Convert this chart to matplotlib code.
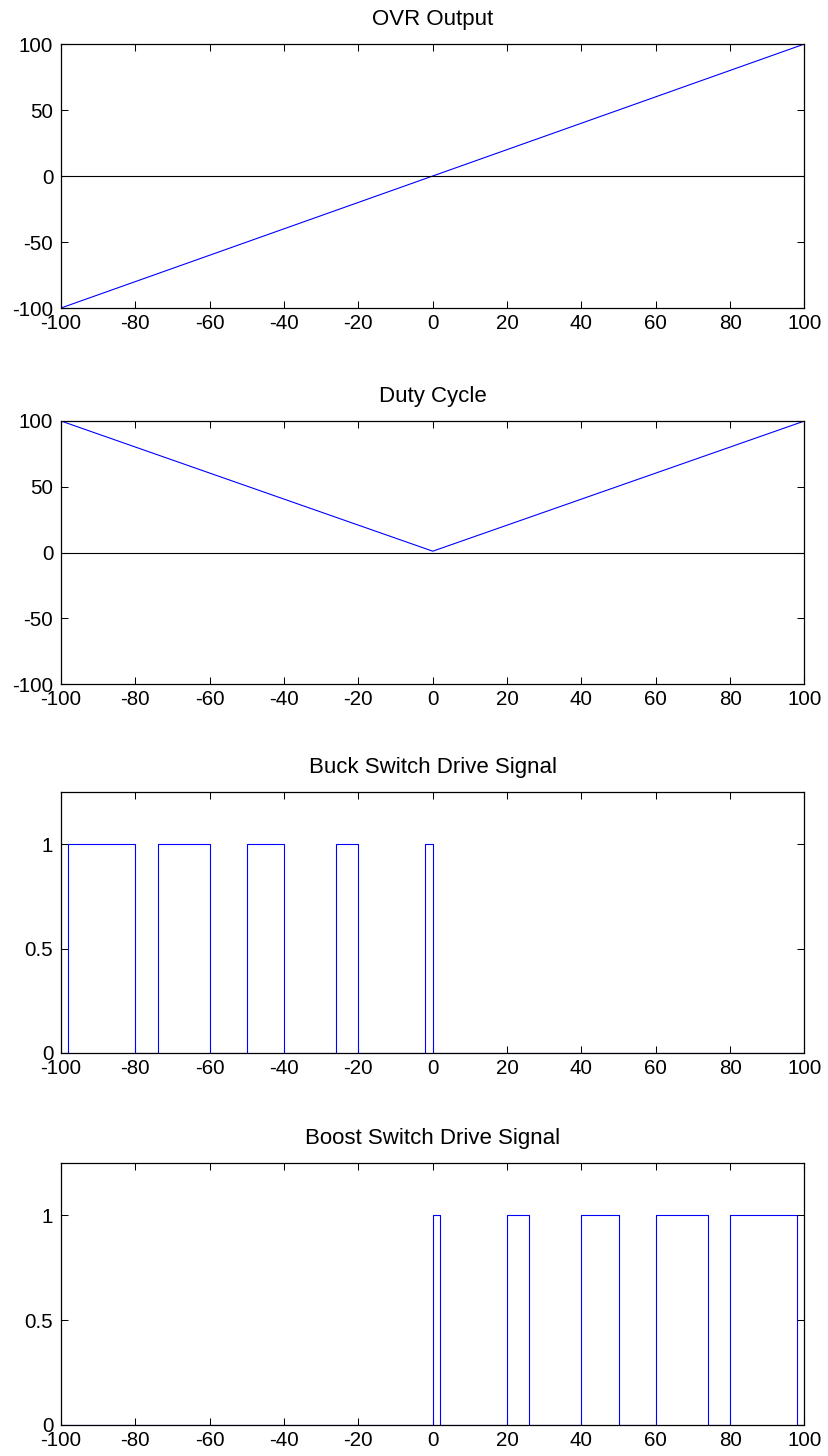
import matplotlib
matplotlib.use("Agg")
import matplotlib.pyplot as plt

plt.rcParams['font.family'] = ['Liberation Sans', 'DejaVu Sans']
plt.rcParams['axes.unicode_minus'] = False

# OVR output (straight line through the endpoints)
ovr_x = [-100, 0, 100]
ovr_y = [-100, 0, 100]

# duty cycle (V shape)
duty_x = [-100, 0, 100]
duty_y = [100, 1, 100]

# switch drive signals, edges (steps-post)
buck_edges = [-100, -98, -80, -74, -60, -50, -40, -26, -20, -2, 0, 100]
buck_levels = [0, 1, 0, 1, 0, 1, 0, 1, 0, 1, 0, 0]

boost_edges = [-100, 0, 2, 20, 26, 40, 50, 60, 74, 80, 98, 100]
boost_levels = [0, 1, 0, 1, 0, 1, 0, 1, 0, 1, 0, 0]

xticks = [-100, -80, -60, -40, -20, 0, 20, 40, 60, 80, 100]

W, H = 829, 1456
fig = plt.figure(figsize=(W / 100, H / 100), dpi=100)

left = 61 / W
width = (804.5 - 61) / W
# (top, bottom) pixel rows of each axes
rows = [(44, 308), (421, 684), (792, 1053), (1163, 1425)]
axes = []
for top, bot in rows:
    ax = fig.add_axes([left, (H - bot) / H, width, (bot - top) / H])
    axes.append(ax)

ax1, ax2, ax3, ax4 = axes

ax1.plot(ovr_x, ovr_y, color='blue', linewidth=0.8)
ax2.plot(duty_x, duty_y, color='blue', linewidth=0.8)
for ax in (ax1, ax2):
    ax.axhline(0, color='black', linewidth=0.8)
    ax.set_ylim(-100, 100)
    ax.set_yticks([-100, -50, 0, 50, 100])

ax3.plot(buck_edges, buck_levels, color='blue', linewidth=0.8, drawstyle='steps-post')
ax4.plot(boost_edges, boost_levels, color='blue', linewidth=0.8, drawstyle='steps-post')
for ax in (ax3, ax4):
    ax.set_ylim(0, 1.25)
    ax.set_yticks([0, 0.5, 1])
    ax.set_yticklabels(['0', '0.5', '1'])

titles = ["OVR Output", "Duty Cycle", "Buck Switch Drive Signal", "Boost Switch Drive Signal"]
for ax, t in zip(axes, titles):
    ax.set_xlim(-100, 100)
    ax.set_xticks(xticks)
    ax.set_title(t, fontsize=16, pad=13.9)
    ax.tick_params(direction='in', length=5.3, width=0.75, top=True, right=True,
                   labelsize=14.8)
    ax.tick_params(axis='x', pad=4)
    ax.tick_params(axis='y', pad=5.5)
    for s in ax.spines.values():
        s.set_linewidth(0.9)

fig.savefig("out.png", dpi=100)
